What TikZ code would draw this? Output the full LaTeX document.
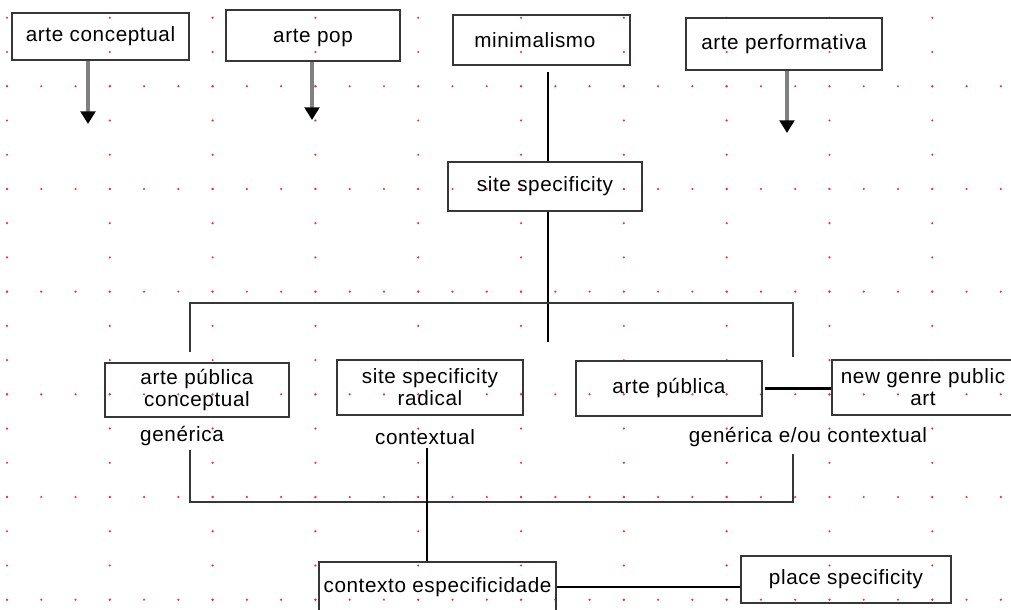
\documentclass[tikz,border=0pt]{standalone}
\usepackage{fontspec}
\setmainfont{Liberation Sans}[LetterSpace=3]
\usetikzlibrary{arrows.meta}

\definecolor{pontos}{RGB}{245,50,50}
\definecolor{borda}{RGB}{55,55,55}

\tikzset{every picture/.style={line width=0.75pt}}
\tikzset{
	texto/.style={font=\fontsize{15.5pt}{16.5pt}\selectfont},
	caixa/.style={texto, draw=borda, line width=1.5pt, inner sep=0pt, align=center},
	tam/.style 2 args={minimum width=#1*0.75pt, minimum height=#2*0.75pt},
	rotulo/.style={texto, inner sep=2pt},
	linha/.style={line width=1.9pt, black},
	chave/.style={line width=1.5pt, borda},
	seta/.style={line width=2.3pt, black!50, -{Triangle[width=11pt,length=9.5pt,color=black]}},
}

\begin{document}
\begin{tikzpicture}[x=0.75pt,y=0.75pt,yscale=-1,xscale=1]
	\fill[white] (0,0) rectangle (1011,610);
	\useasboundingbox (0,0) rectangle (1011,610);

	%grid of dots
	\foreach \j in {2,5,...,17} {
		\foreach \k in {0,...,29}
			\fill[pontos] ({7+34.27*\k},{17.8+34.23*\j}) circle (1.2);
	}
	\foreach \j in {0,...,17} {
		\foreach \k in {0,3,...,27}
			\fill[pontos] ({7+34.27*\k},{17.8+34.23*\j}) circle (1.2);
	}

	%top row
	\node[caixa, tam={177}{47}] (conceitual) at (100.5,36.5) {arte conceptual};
	\node[caixa, tam={174}{51}, text depth=-7pt] (pop) at (313,35.5) {arte pop};
	\node[caixa, tam={177}{50}] (minimalismo) at (541.5,40) {minimalismo\hspace{10pt}};
	\node[caixa, tam={196}{52}] (performativa) at (784,44) {arte performativa};

	%arrow ends
	\coordinate (fimConc) at (88,124);
	\coordinate (fimPop) at (312,120);
	\coordinate (fimPerf) at (787,133);
	\draw[seta] (conceitual.south -| fimConc) -- (fimConc);
	\draw[seta] (pop.south -| fimPop) -- (fimPop);
	\draw[seta] (performativa.south -| fimPerf) -- (fimPerf);

	%site specificity
	\node[caixa, tam={194}{49}] (site) at (545,186.5) {site specificity};
	\coordinate (eixo) at (548,303);
	\coordinate (eixoFim) at (548,342);
	\draw[linha, shorten <=4.5pt] (minimalismo.south -| eixo) -- (site.north -| eixo);
	\draw[linha] (site.south -| eixo) -- (eixoFim);

	%upper bracket
	\coordinate (chaveE) at (190,352);
	\coordinate (chaveD) at (793,357);
	\draw[chave] (chaveE) -- (chaveE |- eixo) -- (chaveD |- eixo) -- (chaveD);

	%middle row
	\node[caixa, tam={184}{54}] (apconceptual) at (197,390) {arte pública\\conceptual};
	\node[caixa, tam={186}{55}] (radical) at (430,387.5) {site specificity\\radical};
	\node[caixa, tam={186}{55}] (publica) at (669,388.5) {arte pública};
	\node[caixa, tam={182}{55}] (newgenre) at (923,387.5) {new genre public\\art};
	\draw[linha, shorten <=1.5pt] (publica.east) -- (publica.east -| newgenre.west);

	\node[rotulo] (generica) at (182,436) {genérica};
	\node[rotulo] (contextual) at (425,437) {contextual};
	\node[rotulo] (ambas) at (808,437) {genérica e/ou contextual};

	%lower bracket
	\coordinate (baseE) at (190,450);
	\coordinate (baseD) at (793,454);
	\coordinate (base) at (427,502);
	\draw[chave] (baseE) -- (baseE |- base) -- (baseD |- base) -- (baseD);

	%bottom row
	\node[caixa, tam={237}{50}] (contexto) at (437.5,587) {contexto especificidade};
	\node[caixa, tam={210}{47}] (place) at (846,579.5) {place specificity};
	\draw[linha] (contextual.south -| base) -- (contexto.north -| base);
	\draw[linha] (contexto.east) -- (contexto.east -| place.west);

\end{tikzpicture}
\end{document}
